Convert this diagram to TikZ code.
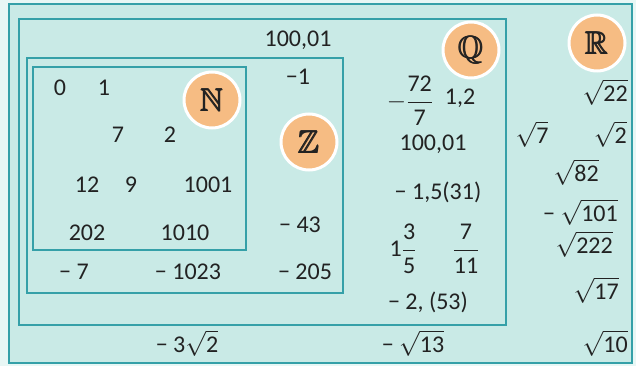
\documentclass[tikz,border=0pt]{standalone}
\usepackage{amsmath,amssymb}
\usepackage{fontspec}
\setmainfont{Carlito}
\usetikzlibrary{positioning}
\definecolor{setfill}{HTML}{C9EAE6}
\definecolor{setline}{HTML}{35A0A8}
\definecolor{pale}{HTML}{E8F7F5}
\definecolor{badgefill}{HTML}{F6BC83}
\definecolor{ink}{HTML}{222222}
\newcommand{\rt}[1]{$\sqrt{\text{#1}}$}
\newcommand{\fr}[2]{$\dfrac{\hbox{#1}}{\hbox{#2}}$}
\tikzset{
    num/.style={inner sep=0pt, text=ink},
    badge/.style={circle, fill=badgefill, draw=white, line width=3pt, minimum size=56pt,
        inner sep=0pt, text=ink, font=\fontsize{32}{34}\selectfont},
    setbox/.style={draw=setline, line width=1.8pt}
}

\begin{document}
\begin{tikzpicture}[x=1pt, y=-1pt, font=\fontsize{24}{28}\selectfont]
    % sets
    \fill[pale] (0,0) rectangle (636,366);
    \fill[setfill] (9,4) rectangle (632,363);
    \draw[setbox, line width=2.6pt] (9,4) rectangle (632,363);
    \draw[setbox] (19,19) rectangle (506,325);
    \draw[setbox] (27,58) rectangle (343,293);
    \draw[setbox] (33,67) rectangle (246,250);

    \node[badge] (N) at (212,100) {$\pmb{\mathbb{N}}$};
    \node[badge] (Z) at (309,142) {$\pmb{\mathbb{Z}}$};
    \node[badge] (Q) at (471,50) {$\pmb{\mathbb{Q}}$};
    \node[badge] (R) at (597,43) {$\pmb{\mathbb{R}}$};

    % N
    \node[num] (n0) at (60,88) {0};
    \node[num] (n1) at (104,88) {1};
    \node[num] (n7) at (118,135) {7};
    \node[num] (n2) at (170,135) {2};
    \node[num] (n12) at (87,185) {12};
    \node[num] (n9) at (131,185) {9};
    \node[num] (n1001) at (208,185) {1001};
    \node[num] (n202) at (87,233) {202};
    \node[num] (n1010) at (185,233) {1010};

    % Z
    \node[num] (z1) at (298,77) {−1};
    \node[num] (z43) at (300,225) {− 43};
    \node[num] (z7) at (74,272) {− 7};
    \node[num] (z1023) at (188,272) {− 1023};
    \node[num] (z205) at (305,272) {− 205};

    % Q
    \node[num] (q10001) at (298,40) {100,01};
    \node[num] (q72) at (410,101) {$-$\fr{72}{7}};
    \node[num] (q12) at (460,98) {1,2};
    \node[num] (q100) at (433,144) {100,01};
    \node[num] (q15) at (438,192) {− 1,5(31)};
    \node[num] (q135) at (403,249) {1\fr{3}{5}};
    \node[num] (q711) at (466,249) {\fr{7}{11}};
    \node[num] (q253) at (428,302) {− 2, (53)};

    % R
    \node[num, anchor=east] (r22) at (628,92) {\rt{22}};
    \node[num] (r7) at (532,134) {\rt{7}};
    \node[num, anchor=east] (r2) at (627,134) {\rt{2}};
    \node[num, anchor=east] (r82) at (599,172) {\rt{82}};
    \node[num, anchor=east] (r101) at (618,212) {− \rt{101}};
    \node[num, anchor=east] (r222) at (613,244) {\rt{222}};
    \node[num, anchor=east] (r17) at (619,290) {\rt{17}};
    \node[num] (r32) at (187,343) {− 3\rt{2}};
    \node[num] (r13) at (413,343) {− \rt{13}};
    \node[num, anchor=east] (r10) at (628,343) {\rt{10}};
\end{tikzpicture}
\end{document}
